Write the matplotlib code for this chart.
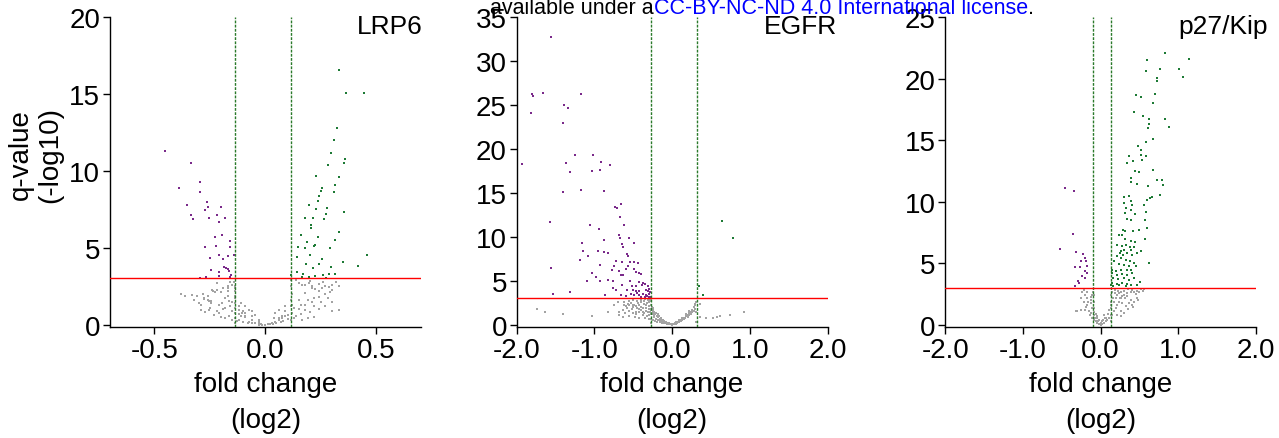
import matplotlib
matplotlib.use("Agg")
import matplotlib.pyplot as plt

plt.rcParams['font.family'] = ['Liberation Sans', 'DejaVu Sans']

# ---- LRP6 ----
lrp6_down = [(-0.452, 11.26), (-0.336, 10.52), (-0.387, 8.91), (-0.294, 9.26), (-0.294, 8.63),
             (-0.354, 7.76), (-0.264, 7.98), (-0.258, 7.65), (-0.198, 7.65), (-0.273, 7.46),
             (-0.333, 7.11), (-0.326, 6.89), (-0.219, 7.11), (-0.255, 6.91), (-0.182, 6.96),
             (-0.210, 6.67), (-0.195, 5.85), (-0.225, 5.70), (-0.159, 5.46), (-0.273, 5.07),
             (-0.222, 5.11), (-0.161, 5.07), (-0.207, 4.50), (-0.141, 4.50), (-0.249, 4.33),
             (-0.192, 4.28), (-0.168, 4.46), (-0.185, 3.76), (-0.177, 3.70), (-0.170, 3.63),
             (-0.165, 3.48), (-0.243, 3.54), (-0.210, 3.43), (-0.294, 3.02), (-0.267, 3.11),
             (-0.207, 3.15), (-0.159, 3.11), (-0.153, 3.24)]
lrp6_up = [(0.333, 16.57), (0.363, 15.09), (0.443, 15.09), (0.323, 12.76), (0.311, 12.02),
           (0.296, 11.13), (0.359, 10.76), (0.281, 10.39), (0.353, 10.50), (0.333, 9.63),
           (0.230, 9.67), (0.315, 9.09), (0.254, 8.89), (0.249, 8.70), (0.309, 8.65),
           (0.243, 8.37), (0.236, 8.04), (0.197, 7.76), (0.278, 7.57), (0.230, 7.50),
           (0.273, 7.22), (0.356, 7.35), (0.179, 6.91), (0.216, 6.91), (0.266, 6.85),
           (0.207, 6.46), (0.204, 6.30), (0.162, 5.85), (0.333, 6.02), (0.239, 5.72),
           (0.186, 5.37), (0.315, 5.50), (0.147, 5.02), (0.179, 4.98), (0.221, 5.11),
           (0.225, 5.15), (0.291, 5.00), (0.141, 4.41), (0.201, 4.50), (0.255, 4.24),
           (0.183, 3.91), (0.243, 3.91), (0.216, 3.65), (0.297, 3.74), (0.348, 4.04),
           (0.417, 3.83), (0.458, 4.52), (0.117, 3.24), (0.144, 3.41), (0.165, 3.09),
           (0.195, 3.09), (0.225, 3.15), (0.258, 3.24), (0.288, 3.28), (0.312, 3.28),
           (0.273, 3.02), (0.171, 3.26)]
lrp6_ns = [(-0.38, 2.02), (-0.36, 1.89), (-0.29, 1.30), (-0.275, 1.67), (-0.26, 1.59),
           (-0.255, 1.52), (-0.245, 1.41), (-0.24, 2.24), (-0.235, 2.17), (-0.225, 2.11),
           (-0.22, 2.28), (-0.17, 2.39), (-0.17, 2.17), (-0.17, 1.89), (-0.165, 1.52),
           (-0.275, 1.74), (-0.245, 1.52), (-0.21, 1.30), (-0.18, 1.10), (-0.15, 0.90),
           (-0.12, 0.70), (-0.09, 0.50), (-0.06, 0.32), (-0.03, 0.15),
           (-0.255, 0.98), (-0.21, 0.76), (-0.165, 0.54), (-0.12, 0.33), (-0.075, 0.15),
           (-0.03, 0.04), (-0.195, 1.41), (-0.16, 1.20), (-0.12, 0.98), (-0.09, 0.76),
           (-0.06, 0.54), (-0.03, 0.33),
           (-0.137, 2.50), (-0.136, 2.35), (-0.138, 2.20), (-0.135, 1.85), (-0.137, 1.70),
           (-0.136, 1.40), (-0.138, 1.10), (-0.135, 0.75), (-0.137, 0.45), (-0.136, 0.10),
           (-0.045, 0.10), (-0.03, 0.00), (-0.015, 0.00), (0.0, 0.00), (0.015, 0.02),
           (0.03, 0.10), (0.045, 0.20),
           (0.06, 0.33), (0.09, 0.54), (0.12, 0.76), (0.15, 1.00), (0.18, 1.30),
           (0.21, 1.50), (0.24, 1.80), (0.27, 2.00), (0.30, 2.26), (0.33, 2.50),
           (0.06, 0.45), (0.09, 0.87), (0.12, 1.30), (0.15, 1.63), (0.18, 2.07),
           (0.21, 2.39), (0.24, 2.61), (0.26, 2.76),
           (0.165, 0.33), (0.19, 0.43), (0.22, 0.48), (0.18, 0.98), (0.22, 1.20),
           (0.30, 0.87), (0.33, 0.93),
           (0.117, 2.90), (0.116, 2.50), (0.118, 2.00), (0.117, 1.60), (0.116, 1.20),
           (0.118, 0.76), (0.117, 0.33),
           (0.15, 2.70), (0.165, 2.60), (0.18, 2.55), (0.195, 2.70), (0.21, 2.50),
           (0.225, 2.30), (0.24, 2.20), (0.255, 2.40), (0.27, 2.50), (0.285, 2.45),
           (0.29, 2.10),
           (-0.17, 2.50), (-0.16, 2.80), (-0.22, 2.70), (-0.19, 2.40), (-0.20, 2.10),
           (-0.11, 1.41), (-0.09, 1.20), (-0.075, 0.98), (-0.06, 0.87), (-0.045, 0.65),
           (-0.105, 0.76), (-0.09, 0.54),
           (0.045, 0.76), (0.06, 0.98), (0.075, 0.54), (0.09, 1.20), (0.038, 0.45),
           (-0.33, 1.95), (-0.31, 1.85), (-0.28, 2.0), (-0.26, 1.85), (-0.29, 0.95),
           (-0.27, 0.85), (-0.23, 0.65), (-0.2, 0.5), (-0.18, 0.40), (-0.15, 0.30),
           (-0.13, 0.25), (-0.1, 0.2), (-0.08, 0.12), (-0.06, 0.08), (-0.02, 0.02),
           (0.01, 0.01), (0.02, 0.05), (0.035, 0.05), (0.05, 0.12), (0.07, 0.18),
           (0.08, 0.25), (0.1, 0.35), (0.13, 0.45), (0.14, 0.55), (0.16, 0.7),
           (0.2, 0.8), (0.24, 1.0), (0.27, 1.2), (0.3, 1.5), (0.28, 1.7),
           (0.25, 1.45), (0.22, 1.7), (0.19, 1.6), (0.16, 1.3), (0.13, 1.1),
           (0.1, 0.65), (0.075, 0.4), (-0.11, 0.55), (-0.1, 0.9), (-0.12, 1.2),
           (-0.15, 1.5), (-0.18, 1.75), (-0.19, 1.0), (-0.22, 0.9), (-0.25, 1.1),
           (-0.3, 1.4), (-0.32, 1.6), (-0.15, 2.6), (-0.14, 2.8), (0.14, 2.9),
           (0.2, 2.85), (0.3, 2.6), (0.32, 2.8)]

# ---- EGFR ----
egfr_down = [(-1.556, 32.75), (-1.803, 26.2), (-1.786, 25.96), (-1.658, 26.4), (-1.167, 26.2),
             (-1.812, 24.08), (-1.389, 25.0), (-1.342, 24.6), (-1.406, 23.0), (-1.256, 19.28),
             (-1.013, 19.32), (-1.372, 18.42), (-0.919, 18.49), (-1.927, 18.26), (-0.799, 18.15),
             (-1.308, 17.36), (-1.034, 17.51), (-0.932, 17.55), (-1.406, 15.09), (-1.171, 15.32),
             (-0.880, 15.21), (-0.654, 13.70), (-0.731, 13.43), (-0.714, 13.28), (-0.675, 12.26),
             (-1.577, 11.70), (-1.056, 11.36), (-0.620, 11.36), (-0.944, 10.87), (-0.688, 10.19),
             (-0.671, 9.89), (-0.560, 9.81), (-0.872, 9.66), (-0.645, 9.17), (-1.162, 9.25),
             (-0.632, 8.79), (-0.491, 9.28), (-1.141, 8.42), (-0.949, 8.42), (-0.880, 8.23),
             (-0.829, 8.15), (-0.577, 8.04), (-0.564, 7.77), (-1.184, 7.40), (-1.085, 7.85),
             (-0.718, 7.25), (-0.650, 7.09), (-0.543, 7.09), (-0.487, 7.09), (-0.444, 7.02),
             (-0.927, 6.83), (-0.748, 6.72), (-0.564, 6.72), (-1.560, 6.42), (-0.769, 6.23),
             (-0.688, 6.15), (-0.594, 6.34), (-0.487, 6.34), (-0.466, 5.96), (-0.427, 5.89),
             (-0.402, 5.77), (-0.628, 5.62), (-1.030, 5.89), (-0.979, 5.47), (-0.654, 5.62),
             (-1.094, 5.02), (-0.927, 4.94), (-0.829, 5.09), (-0.765, 5.02), (-0.645, 4.57),
             (-0.543, 4.98), (-0.423, 4.91), (-0.380, 4.75), (-0.521, 4.38), (-0.466, 4.38),
             (-0.389, 4.53), (-0.355, 4.60), (-0.316, 4.45), (-0.756, 4.15), (-0.722, 3.92),
             (-0.581, 4.00), (-0.509, 4.00), (-0.466, 3.89), (-0.423, 3.81), (-0.338, 3.96),
             (-0.303, 4.08), (-1.308, 3.70), (-1.538, 3.51), (-0.859, 3.40), (-0.658, 3.40),
             (-0.594, 3.32), (-0.530, 3.51), (-0.487, 3.40), (-0.423, 3.40), (-0.372, 3.51),
             (-0.338, 3.40), (-0.295, 3.51), (-0.282, 3.70), (-0.402, 3.21), (-0.325, 3.32),
             (-0.30, 3.20), (-0.285, 3.10), (-0.31, 3.80), (-0.35, 3.10), (-0.45, 3.60)]
egfr_up = [(0.637, 11.81), (0.778, 9.89), (0.346, 4.38), (0.402, 3.36)]
egfr_ns = [(-1.735, 1.81), (-1.641, 1.40), (-1.406, 1.21), (-1.034, 0.94), (-0.637, 0.87),
           (-0.68, 1.43),
           (-0.615, 2.57), (-0.573, 2.38), (-0.53, 2.46), (-0.487, 2.30), (-0.444, 2.46),
           (-0.402, 2.57), (-0.359, 2.68), (-0.316, 2.76), (-0.295, 2.57),
           (-0.594, 2.08), (-0.551, 2.19), (-0.509, 2.00), (-0.466, 2.08), (-0.423, 1.81),
           (-0.38, 1.93), (-0.338, 2.19), (-0.295, 2.08), (-0.274, 2.30),
           (-0.637, 1.63), (-0.551, 1.55), (-0.466, 1.44), (-0.402, 1.63), (-0.359, 1.32),
           (-0.316, 1.44), (-0.274, 1.63),
           (-0.68, 1.06), (-0.466, 1.17), (-0.38, 1.06), (-0.329, 0.94), (-0.295, 1.06),
           (-0.252, 1.17),
           (-0.231, 0.87), (-0.209, 0.68), (-0.188, 0.57), (-0.167, 0.49), (-0.145, 0.42),
           (-0.124, 0.30), (-0.103, 0.23), (-0.081, 0.19), (-0.06, 0.11), (-0.038, 0.08),
           (-0.017, 0.04),
           (-0.252, 1.63), (-0.231, 1.44), (-0.252, 1.25), (-0.231, 1.06), (-0.209, 1.32),
           (-0.188, 1.17), (-0.167, 0.94), (-0.145, 0.79),
           (-0.27, 2.90), (-0.27, 2.30), (-0.27, 1.80), (-0.27, 1.20), (-0.27, 0.60),
           (-0.27, 0.20),
           (0.026, 0.04), (0.047, 0.11), (0.068, 0.19), (0.09, 0.30), (0.111, 0.42),
           (0.132, 0.57), (0.154, 0.72), (0.175, 0.94), (0.197, 1.11), (0.218, 1.32),
           (0.239, 1.49), (0.261, 1.73), (0.282, 1.98), (0.295, 2.19),
           (0.047, 0.30), (0.09, 0.49), (0.132, 0.79), (0.175, 1.17), (0.218, 1.55),
           (0.31, 2.60), (0.31, 1.40), (0.31, 0.30),
           (0.36, 0.87), (0.43, 0.76), (0.52, 0.80), (0.58, 0.87), (0.62, 0.94),
           (0.75, 1.06), (0.92, 1.44), (0.359, 2.38),
           (-0.55, 2.7), (-0.5, 2.85), (-0.45, 2.7), (-0.4, 2.85), (-0.35, 2.9),
           (-0.3, 2.85), (-0.62, 2.3), (-0.5, 2.25), (-0.42, 2.2), (-0.36, 2.4),
           (-0.32, 2.5), (-0.29, 2.7), (-0.58, 1.85), (-0.52, 1.75), (-0.45, 1.9),
           (-0.4, 2.0), (-0.34, 1.9), (-0.3, 1.8), (-0.26, 2.0), (-0.24, 1.9),
           (-0.6, 1.3), (-0.5, 1.35), (-0.43, 1.4), (-0.38, 1.5), (-0.33, 1.6),
           (-0.28, 1.4), (-0.25, 1.5), (-0.22, 1.2), (-0.2, 0.95), (-0.18, 0.85),
           (-0.16, 0.7), (-0.14, 0.6), (-0.12, 0.5), (-0.1, 0.4), (-0.08, 0.3),
           (-0.06, 0.25), (-0.04, 0.15), (-0.02, 0.1), (0.0, 0.02), (0.01, 0.05),
           (0.04, 0.15), (0.06, 0.22), (0.08, 0.35), (0.1, 0.38), (0.12, 0.5),
           (0.15, 0.6), (0.17, 0.8), (0.2, 0.9), (0.22, 1.1), (0.24, 1.25),
           (0.26, 1.45), (0.28, 1.6), (0.29, 1.8), (0.3, 2.4), (-0.7, 2.6),
           (-0.75, 2.2), (-0.82, 1.5), (-0.56, 1.0), (-0.48, 0.9), (-0.42, 0.8),
           (-0.35, 0.75), (-0.3, 0.6), (-0.25, 0.55), (-0.22, 0.45), (-0.19, 0.35),
           (-0.16, 0.3), (-0.13, 0.2)]

# ---- p27/Kip ----
p27_down = [(-0.464, 11.16), (-0.344, 10.90), (-0.352, 7.42), (-0.524, 6.15), (-0.322, 5.93),
            (-0.223, 5.77), (-0.206, 5.45), (-0.193, 5.18), (-0.258, 5.18), (-0.335, 4.69),
            (-0.266, 4.69), (-0.172, 4.77), (-0.206, 4.37), (-0.172, 4.23), (-0.236, 3.96),
            (-0.288, 3.61), (-0.279, 3.43), (-0.206, 3.83), (-0.335, 3.16)]
p27_up = [(0.825, 22.11), (1.139, 21.63), (0.593, 21.55), (0.769, 20.82), (1.014, 20.82),
          (0.580, 20.60), (1.057, 20.17), (0.730, 20.06), (0.722, 19.80), (0.451, 18.66),
          (0.516, 18.53), (0.696, 18.72), (0.670, 18.04), (0.430, 17.29), (0.550, 16.96),
          (0.627, 16.69), (0.825, 16.72), (0.881, 16.10), (0.623, 16.29), (0.610, 16.02),
          (0.670, 15.08), (0.580, 14.89), (0.485, 14.54), (0.524, 14.21), (0.516, 13.81),
          (0.580, 13.75), (0.369, 13.73), (0.528, 13.43), (0.421, 13.32), (0.344, 13.13),
          (0.438, 12.51), (0.494, 12.46), (0.670, 12.59), (0.391, 11.92), (0.387, 11.65),
          (0.464, 11.43), (0.610, 11.25), (0.722, 11.76), (0.795, 11.79), (0.803, 11.38),
          (0.765, 10.52), (0.361, 10.46), (0.301, 10.36), (0.657, 10.36), (0.601, 10.19),
          (0.631, 10.30), (0.391, 10.09), (0.301, 9.90), (0.400, 9.76), (0.559, 9.76),
          (0.331, 9.49), (0.391, 9.33), (0.580, 9.14), (0.314, 9.09), (0.438, 9.01),
          (0.335, 8.63), (0.387, 8.55), (0.571, 8.50), (0.601, 7.87), (0.292, 7.74),
          (0.309, 7.61), (0.421, 7.66), (0.498, 7.69), (0.236, 7.34), (0.279, 7.28),
          (0.571, 7.01), (0.314, 7.01), (0.387, 6.80), (0.442, 6.72), (0.215, 6.53),
          (0.279, 6.39), (0.322, 6.47), (0.378, 6.36), (0.429, 6.31), (0.258, 6.04),
          (0.301, 6.12), (0.387, 6.12), (0.516, 5.99), (0.249, 5.85), (0.292, 5.72),
          (0.344, 5.85), (0.408, 5.72), (0.473, 5.83), (0.215, 5.58), (0.266, 5.45),
          (0.322, 5.31), (0.378, 5.18), (0.430, 5.04), (0.627, 5.02), (0.172, 5.18),
          (0.236, 4.96), (0.301, 4.91), (0.365, 4.77), (0.451, 4.77), (0.150, 4.50),
          (0.193, 4.42), (0.258, 4.50), (0.335, 4.50), (0.387, 4.50), (0.142, 4.23),
          (0.215, 4.10), (0.279, 4.15), (0.344, 4.05), (0.408, 4.23), (0.163, 3.83),
          (0.223, 3.78), (0.301, 3.83), (0.365, 3.69), (0.430, 3.83), (0.507, 3.51),
          (0.150, 3.43), (0.215, 3.34), (0.279, 3.43), (0.344, 3.34), (0.163, 3.16),
          (0.236, 3.24), (0.322, 3.16), (0.387, 3.29), (0.464, 3.24), (0.129, 3.24)]
p27_ns = [(-0.31, 1.11), (-0.236, 2.67), (-0.206, 2.45), (-0.18, 2.18), (-0.215, 1.91),
          (-0.172, 1.59), (-0.258, 1.24), (-0.15, 1.16), (-0.193, 1.43), (-0.129, 1.78),
          (-0.138, 0.84), (-0.107, 0.57), (-0.129, 2.05), (-0.172, 2.72), (-0.215, 2.86),
          (-0.107, 2.45),
          (-0.086, 0.43), (-0.064, 0.30), (-0.043, 0.16), (-0.021, 0.08), (0.0, 0.03),
          (0.021, 0.08), (0.043, 0.16), (0.064, 0.30), (0.086, 0.43), (0.107, 0.57),
          (-0.052, 0.57), (-0.021, 0.43), (0.021, 0.30), (0.052, 0.57), (-0.086, 0.84),
          (-0.043, 0.70),
          (0.15, 0.84), (0.172, 1.11), (0.193, 1.38), (0.215, 1.65), (0.236, 1.91),
          (0.258, 2.18), (0.28, 2.32), (0.30, 2.45), (0.344, 2.59), (0.387, 2.67),
          (0.43, 2.72), (0.473, 2.78), (0.516, 2.94), (0.56, 2.95),
          (0.172, 1.91), (0.193, 2.18), (0.215, 2.45), (0.236, 2.59), (0.258, 2.72),
          (0.30, 2.78), (0.344, 2.32), (0.387, 2.05), (0.408, 1.65), (0.43, 1.91),
          (0.473, 2.18), (0.215, 0.84), (0.258, 1.11), (0.322, 1.51), (0.365, 1.78),
          (0.129, 1.38), (0.129, 1.91), (0.129, 2.45), (0.129, 0.84), (0.129, 0.30),
          (0.15, 2.72), (0.18, 2.86),
          (-0.086, 2.45), (-0.086, 1.91), (-0.086, 1.38), (-0.099, 2.72), (-0.309, 1.13),
          (-0.25, 2.2), (-0.2, 1.2), (-0.16, 1.9), (-0.12, 2.3), (-0.11, 1.4),
          (-0.12, 1.0), (-0.09, 1.1), (-0.07, 0.6), (-0.06, 0.9), (-0.03, 0.35),
          (0.01, 0.15), (0.03, 0.4), (0.05, 0.8), (0.07, 0.6), (0.09, 0.9),
          (0.11, 1.2), (0.14, 1.6), (0.16, 2.2), (0.19, 2.6), (0.22, 2.8),
          (0.25, 2.2), (0.28, 1.8), (0.31, 2.2), (0.35, 2.9), (0.4, 2.85),
          (0.45, 2.5), (0.5, 2.7), (0.26, 0.7), (0.3, 1.0), (0.35, 1.3),
          (0.42, 1.5), (0.48, 2.0), (0.55, 2.75)]

panel_titles = ['LRP6', 'EGFR', 'p27/Kip']
fc_cutoffs = [(-0.135, 0.117), (-0.27, 0.32), (-0.10, 0.13)]
q_cutoff = 3
xlims = [(-0.7, 0.7), (-2.0, 2.0), (-2.0, 2.0)]
ylims = [(-0.15, 20), (-0.25, 35), (-0.15, 25)]
xticks = [[-0.5, 0.0, 0.5], [-2.0, -1.0, 0.0, 1.0, 2.0], [-2.0, -1.0, 0.0, 1.0, 2.0]]
yticks = [range(0, 21, 5), range(0, 36, 5), range(0, 26, 5)]

PURPLE = '#7a2a8a'
GREEN = '#1d7a35'
GRAY = '#a3a3a3'

fig = plt.figure(figsize=(12.79, 4.39), dpi=100)
lefts = [0.086, 0.404, 0.739]
width = 0.243
title_x = [423 / 1279, 837 / 1279, 1268 / 1279]

data = [(lrp6_down, lrp6_up, lrp6_ns), (egfr_down, egfr_up, egfr_ns),
        (p27_down, p27_up, p27_ns)]

for i, (down, up, ns) in enumerate(data):
    ax = fig.add_axes([lefts[i], 0.253, width, 0.706])
    for pts, col in [(ns, GRAY), (down, PURPLE), (up, GREEN)]:
        xs, ys = zip(*pts)
        ax.scatter(xs, ys, s=3.5, c=col, marker='s', linewidths=0, zorder=2)
    for c in fc_cutoffs[i]:
        ax.axvline(c, color='#2a7a2a', lw=1, ls=(0, (2, 1)), zorder=3)
    ax.axhline(q_cutoff, color='#ff0000', lw=1, zorder=3)
    ax.set_xlim(*xlims[i])
    ax.set_ylim(*ylims[i])
    ax.set_xticks(xticks[i])
    ax.set_xticklabels(['%.1f' % t for t in xticks[i]])
    ax.set_yticks(list(yticks[i]))
    ax.tick_params(labelsize=20, length=5, width=1, direction='out', pad=2)
    for s in ['top', 'right']:
        ax.spines[s].set_visible(False)
    ax.spines['left'].set_linewidth(1)
    ax.spines['bottom'].set_linewidth(1)
    ax.set_xlabel('fold change\n(log2)', fontsize=20, labelpad=6, linespacing=1.5)
    fig.text(title_x[i], 1 - 15 / 439, panel_titles[i], fontsize=19,
             ha='right', va='top')

fig.text(0.028, 1 - 155 / 439, 'q-value\n(-log10)', fontsize=20, rotation=90,
         ha='center', va='center', linespacing=1.15)

# bioRxiv licence banner, pieces placed one after another
banner = [('available under a', 'black'),
          ('CC-BY-NC-ND 4.0 International license', '#0000ff'),
          ('.', 'black')]
renderer = fig.canvas.get_renderer()
bx = 490
for txt, col in banner:
    t = fig.text(bx / 1279, 1 - 14 / 439, txt, fontsize=15.5, color=col,
                 ha='left', va='baseline')
    bx += t.get_window_extent(renderer).width

fig.savefig('out.png', dpi=100)
